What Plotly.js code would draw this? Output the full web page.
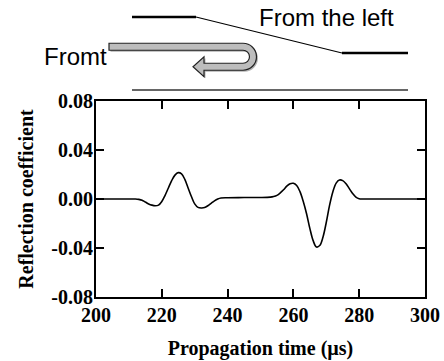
<!DOCTYPE html>
<html>
<head>
<meta charset="utf-8">
<script src="https://cdn.plot.ly/plotly-3.0.1.min.js"></script>
<style>html,body{margin:0;padding:0;background:#fff;}#chart{width:444px;height:361px;}</style>
</head>
<body>
<div id="chart"></div>
<script>
// ---- data ----
const timeUs = [200, 205, 210, 212, 213, 214, 215, 216, 217, 218, 219, 220, 221, 222, 223, 224, 225, 226, 227, 228, 229, 230, 231, 232, 233, 234, 235, 236, 237, 238, 240, 245, 250, 253, 254, 255, 256, 257, 258, 259, 260, 261, 262, 263, 264, 265, 266, 267, 268, 269, 270, 271, 272, 273, 274, 275, 276, 277, 278, 279, 280, 281, 290, 300];
const reflection = [0, 0, 0, 0, -0.0003, -0.001, -0.0025, -0.004, -0.005, -0.0055, -0.005, -0.002, 0.003, 0.009, 0.015, 0.0195, 0.0215, 0.0205, 0.016, 0.009, 0.002, -0.004, -0.0068, -0.0073, -0.007, -0.0055, -0.0035, -0.0015, 0, 0.0008, 0.001, 0.0012, 0.0012, 0.0015, 0.002, 0.003, 0.005, 0.0075, 0.0105, 0.0125, 0.0128, 0.011, 0.006, -0.002, -0.012, -0.024, -0.034, -0.0392, -0.038, -0.031, -0.019, -0.005, 0.006, 0.013, 0.0155, 0.015, 0.0125, 0.0085, 0.0045, 0.0015, 0.0002, 0, 0, 0];
const xTickVals = [200, 220, 240, 260, 280, 300];
const xTickText = ['200', '220', '240', '260', '280', '300'];
const yTickVals = [-0.08, -0.04, 0, 0.04, 0.08];
const yTickText = ['-0.08', '-0.04', '0.00', '0.04', '0.08'];
const xTitle = 'Propagation time (\u00b5s)';
const yTitle = 'Reflection coefficient';
const labelLeft = 'Fromt';
const labelRight = 'From the left';

// ---- layout geometry (pixels) ----
const W = 444, H = 361;
const M = {l: 96, r: 19, t: 101, b: 64};
const PW = W - M.l - M.r, PH = H - M.t - M.b;
const px = x => (x - M.l) / PW;
const py = y => (H - M.b - y) / PH;
const pt = (x, y) => px(x).toFixed(5) + ',' + py(y).toFixed(5);
const bold = s => '<b>' + s + '</b>';

function line(x0, y0, x1, y1, w, c) {
  return {type: 'line', xref: 'paper', yref: 'paper', x0: px(x0), y0: py(y0), x1: px(x1), y1: py(y1),
          line: {color: c, width: w}, layer: 'above'};
}

function arrowPath(dx, dy) {
  const cx = 243 + dx, cy = 56.75 + dy;
  const Ro = 13.5, Ri = 6.5, k = 0.5523;
  const xs = 109 + dx, xh = 204 + dx, tip = 193 + dx;
  let p = 'M' + pt(xs, cy - Ro);
  p += ' L' + pt(cx, cy - Ro);
  p += ' C' + pt(cx + k * Ro, cy - Ro) + ' ' + pt(cx + Ro, cy - k * Ro) + ' ' + pt(cx + Ro, cy);
  p += ' C' + pt(cx + Ro, cy + k * Ro) + ' ' + pt(cx + k * Ro, cy + Ro) + ' ' + pt(cx, cy + Ro);
  p += ' L' + pt(xh, cy + Ro);
  p += ' L' + pt(xh, cy + Ro + 6.5);
  p += ' L' + pt(tip, cy + (Ro + Ri) / 2);
  p += ' L' + pt(xh, cy + Ri - 6.5);
  p += ' L' + pt(xh, cy + Ri);
  p += ' L' + pt(cx, cy + Ri);
  p += ' C' + pt(cx + k * Ri, cy + Ri) + ' ' + pt(cx + Ri, cy + k * Ri) + ' ' + pt(cx + Ri, cy);
  p += ' C' + pt(cx + Ri, cy - k * Ri) + ' ' + pt(cx + k * Ri, cy - Ri) + ' ' + pt(cx, cy - Ri);
  p += ' L' + pt(xs, cy - Ri);
  p += ' Z';
  return p;
}

const shapes = [
  line(132, 17, 196, 17, 2.5, '#000'),
  line(196, 17, 342, 53, 1.2, '#000'),
  line(342, 53, 408, 53, 2.5, '#000'),
  line(132, 90, 408, 90, 1.5, '#333'),
  {type: 'path', xref: 'paper', yref: 'paper', path: arrowPath(1.5, 1.5), fillcolor: 'rgba(0,0,0,0.3)', line: {width: 0}, layer: 'above'},
  {type: 'path', xref: 'paper', yref: 'paper', path: arrowPath(0, 0), fillcolor: '#bdbdbd', line: {color: '#222', width: 1.2}, layer: 'above'}
];

const serif = {family: 'Liberation Serif, Times New Roman, serif', size: 20, color: '#000', weight: 700};
const sans = {family: 'Liberation Sans, Arial, sans-serif', size: 24, color: '#000'};

const annotations = [
  {xref: 'paper', yref: 'paper', x: px(326), y: py(18), text: labelRight, showarrow: false, xanchor: 'center', yanchor: 'middle', font: sans},
  {xref: 'paper', yref: 'paper', x: px(75), y: py(56), text: labelLeft, showarrow: false, xanchor: 'center', yanchor: 'middle', font: sans}
];

const trace = {
  x: timeUs, y: reflection, type: 'scatter', mode: 'lines',
  line: {color: '#000', width: 1.6, shape: 'spline', smoothing: 1}, hoverinfo: 'skip'
};

const axisCommon = {
  showgrid: false, zeroline: false, showline: true, linecolor: '#000', linewidth: 2,
  mirror: 'ticks', ticks: 'inside', ticklen: 8, tickwidth: 2, tickcolor: '#000',
  tickfont: serif, tickmode: 'array'
};

const layout = {
  width: W, height: H, margin: M,
  paper_bgcolor: '#fff', plot_bgcolor: '#fff', showlegend: false,
  xaxis: Object.assign({}, axisCommon, {
    range: [200, 300], tickvals: xTickVals, ticktext: xTickText.map(bold), ticklabelstandoff: -1,
    title: {text: xTitle, font: serif, standoff: 16}
  }),
  yaxis: Object.assign({}, axisCommon, {
    range: [-0.08, 0.08], tickvals: yTickVals, ticktext: yTickText.map(bold), ticklabelstandoff: -3,
    title: {text: yTitle, font: serif, standoff: 12}
  }),
  shapes: shapes, annotations: annotations
};

Plotly.newPlot('chart', [trace], layout, {staticPlot: true, displayModeBar: false});
</script>
</body>
</html>
